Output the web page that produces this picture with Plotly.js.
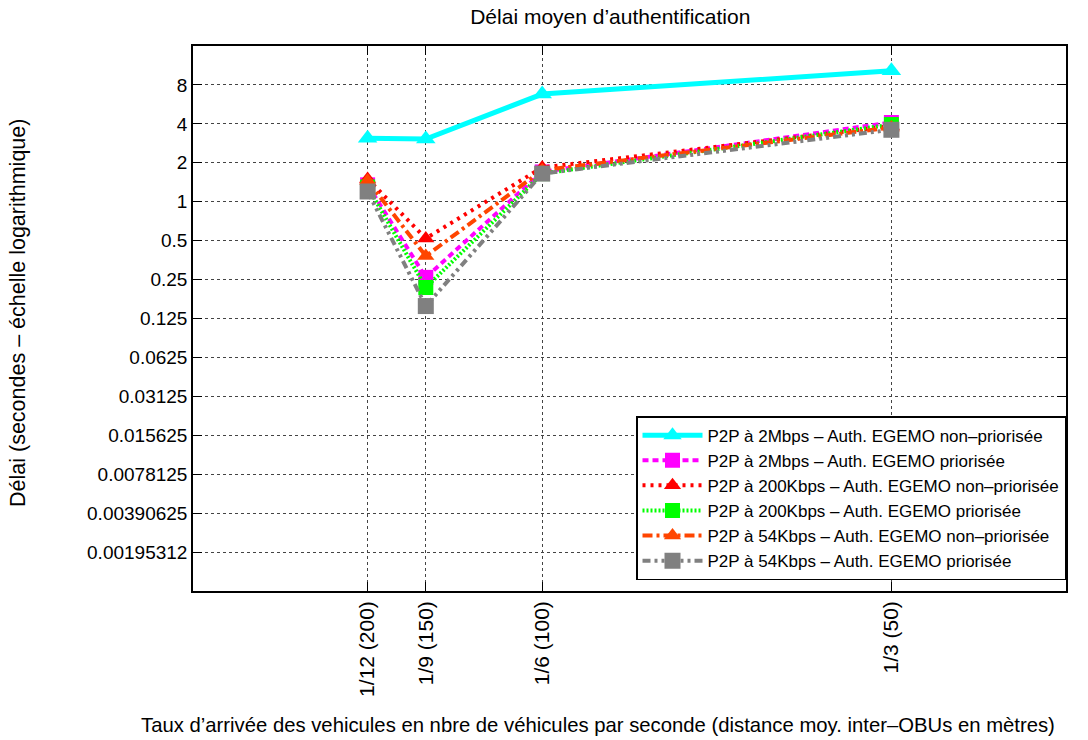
<!DOCTYPE html>
<html>
<head>
<meta charset="utf-8">
<script src="https://cdn.plot.ly/plotly-3.0.1.min.js"></script>
<style>html,body{margin:0;padding:0;background:#fff;}#chart{width:1088px;height:740px;}</style>
</head>
<body>
<div id="chart"></div>
<script>
// Arrival rates (vehicles per second) and tick labels
const rates = [1/12, 1/9, 1/6, 1/3];
const rateLabels = ['1/12 (200)', '1/9 (150)', '1/6 (100)', '1/3 (50)'];

// Y tick values (log2 scale) and labels
const yTickVals = [8, 4, 2, 1, 0.5, 0.25, 0.125, 0.0625, 0.03125, 0.015625, 0.0078125, 0.00390625, 0.001953125];
const yTickText = ['8', '4', '2', '1', '0.5', '0.25', '0.125', '0.0625', '0.03125', '0.015625', '0.0078125', '0.00390625', '0.00195312'];

// Series names
const seriesNames = [
  'P2P à 2Mbps – Auth. EGEMO non–priorisée',
  'P2P à 2Mbps – Auth. EGEMO priorisée',
  'P2P à 200Kbps – Auth. EGEMO non–priorisée',
  'P2P à 200Kbps – Auth. EGEMO priorisée',
  'P2P à 54Kbps – Auth. EGEMO non–priorisée',
  'P2P à 54Kbps – Auth. EGEMO priorisée'
];

// Mean authentication delay (seconds)
const p2p2MNonPrio   = [3.1, 3.05, 6.8, 10.3];
const p2p2MPrio      = [1.35, 0.26, 1.7, 4.1];
const p2p200KNonPrio = [1.5, 0.52, 1.84, 3.85];
const p2p200KPrio    = [1.3, 0.217, 1.65, 3.95];
const p2p54KNonPrio  = [1.45, 0.38, 1.75, 3.75];
const p2p54KPrio     = [1.2, 0.156, 1.65, 3.6];

const seriesValues = [p2p2MNonPrio, p2p2MPrio, p2p200KNonPrio, p2p200KPrio, p2p54KNonPrio, p2p54KPrio];

const styles = [
  {color: '#00FFFF', dash: 'solid', width: 5, symbol: 'triangle-up', size: 17},
  {color: '#FF00FF', dash: '6px,4px', width: 4, symbol: 'square', size: 15},
  {color: '#FF0000', dash: '3px,5px', width: 4, symbol: 'triangle-up', size: 15},
  {color: '#00FF00', dash: '2px,2px', width: 4, symbol: 'square', size: 15},
  {color: '#FF4500', dash: '10px,4px,3px,4px', width: 4, symbol: 'triangle-up', size: 15},
  {color: '#808080', dash: '8px,4px,3px,4px,3px,4px', width: 4, symbol: 'square', size: 16}
];

const FONT = 'Liberation Sans, Arial, sans-serif';

const traces = seriesValues.map((vals, i) => ({
  type: 'scatter',
  mode: 'lines+markers',
  name: seriesNames[i],
  x: rates,
  y: vals,
  line: {color: styles[i].color, dash: styles[i].dash, width: styles[i].width},
  marker: {color: styles[i].color, symbol: styles[i].symbol, size: styles[i].size, line: {width: 0}}
}));

const layout = {
  width: 1088,
  height: 740,
  paper_bgcolor: '#fff',
  plot_bgcolor: '#fff',
  margin: {l: 193, r: 22, t: 46, b: 149},
  font: {family: FONT, size: 20, color: '#000'},
  title: {
    text: 'Délai moyen d’authentification',
    font: {family: FONT, size: 21, color: '#000'},
    xref: 'paper', x: 0.478, xanchor: 'center',
    yref: 'container', y: 1 - 17/740, yanchor: 'middle'
  },
  showlegend: true,
  legend: {
    x: 1, xanchor: 'right', y: 0.02, yanchor: 'bottom',
    bgcolor: '#fff', bordercolor: '#000', borderwidth: 1.5,
    font: {family: FONT, size: 17, color: '#000'},
    itemwidth: 60
  },
  xaxis: {
    type: 'linear',
    range: [0, 5/12],
    tickvals: rates,
    ticktext: rateLabels,
    tickangle: -90,
    tickfont: {family: FONT, size: 21, color: '#000'},
    ticks: 'inside', ticklen: 9, tickcolor: '#000', tickwidth: 1,
    showline: true, linecolor: '#000', linewidth: 1.5, mirror: 'allticks',
    showgrid: true, gridcolor: '#444', gridwidth: 1, griddash: '3px,3px',
    zeroline: false
  },
  yaxis: {
    type: 'log',
    range: [Math.log10(Math.pow(2, -10)), Math.log10(16)],
    tickvals: yTickVals,
    ticktext: yTickText,
    tickfont: {family: FONT, size: 19, color: '#000'},
    ticks: 'inside', ticklen: 9, tickcolor: '#000', tickwidth: 1,
    showline: true, linecolor: '#000', linewidth: 1.5, mirror: 'allticks',
    showgrid: true, gridcolor: '#444', gridwidth: 1, griddash: '3px,3px',
    zeroline: false
  },
  annotations: [
    {
      text: 'Taux d’arrivée des vehicules en nbre de véhicules par seconde (distance moy. inter–OBUs en mètres)',
      xref: 'paper', yref: 'paper', x: (598 - 193) / 873, y: (591 - 725) / 545,
      xanchor: 'center', yanchor: 'middle', showarrow: false,
      font: {family: FONT, size: 20.3, color: '#000'}
    },
    {
      text: 'Délai (secondes – échelle logarithmique)',
      xref: 'paper', yref: 'paper', x: (18 - 193) / 873, y: (591 - 313) / 545,
      xanchor: 'center', yanchor: 'middle', showarrow: false, textangle: -90,
      font: {family: FONT, size: 21.5, color: '#000'}
    }
  ]
};

Plotly.newPlot('chart', traces, layout, {displayModeBar: false, responsive: false});
</script>
</body>
</html>
